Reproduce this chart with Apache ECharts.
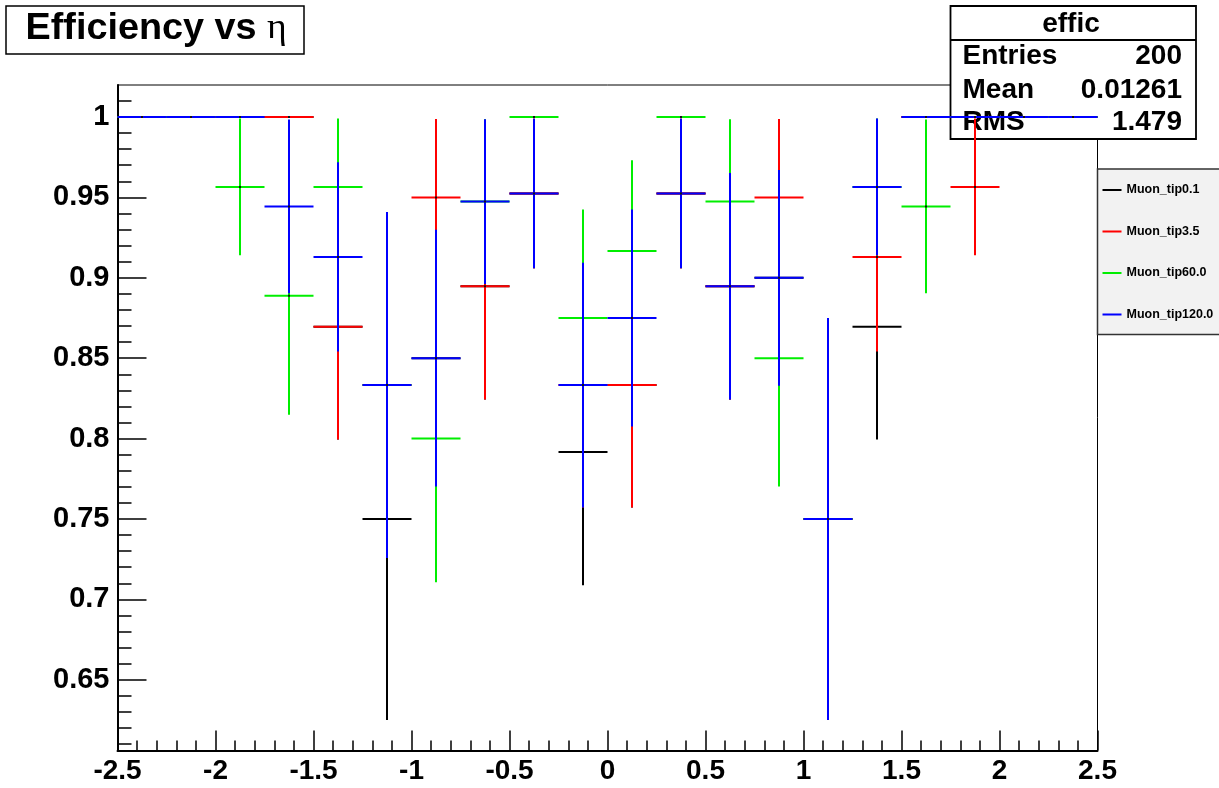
<!DOCTYPE html>
<html>
<head>
<meta charset="utf-8">
<title>Efficiency vs eta</title>
<script src="https://cdn.jsdelivr.net/npm/echarts@6/dist/echarts.min.js"></script>
<style>
  html, body { margin: 0; padding: 0; background: #ffffff; }
  #chart { width: 1219px; height: 788px; }
</style>
</head>
<body>
<div id="chart"></div>
<script>
// Bin centres in eta (20 bins of width 0.25 between -2.5 and 2.5)
const etaCenters = [-2.375, -2.125, -1.875, -1.625, -1.375, -1.125, -0.875, -0.625, -0.375, -0.125,
                     0.125,  0.375,  0.625,  0.875,  1.125,  1.375,  1.625,  1.875,  2.125,  2.375];
const etaHalfWidth = 0.125;

// Efficiency and its binomial error per bin, one pair of arrays per tip cut
const tip01Eff  = [1, 1, 1, 1, 0.8696, 0.75, 0.85, 0.8947, 0.9524, 0.7917, 0.8333, 0.9524, 0.8947, 0.9, 0.75, 0.8696, 1, 1, 1, 1];
const tip01Err  = [0, 0, 0, 0, 0.0702, 0.125, 0.0798, 0.0704, 0.0465, 0.0829, 0.0761, 0.0465, 0.0704, 0.0671, 0.125, 0.0702, 0, 0, 0, 0];

const tip35Eff  = [1, 1, 1, 1, 0.8696, 0.8333, 0.95, 0.8947, 0.9524, 0.8333, 0.8333, 0.9524, 0.8947, 0.95, 0.75, 0.913, 1, 0.9565, 1, 1];
const tip35Err  = [0, 0, 0, 0, 0.0702, 0.1076, 0.0487, 0.0704, 0.0465, 0.0761, 0.0761, 0.0465, 0.0704, 0.0487, 0.125, 0.0588, 0, 0.0425, 0, 0];

const tip60Eff  = [1, 1, 0.9565, 0.8889, 0.9565, 0.8333, 0.8, 0.9474, 1, 0.875, 0.9167, 1, 0.9474, 0.85, 0.75, 0.9565, 0.9444, 1, 1, 1];
const tip60Err  = [0, 0, 0.0425, 0.0741, 0.0425, 0.1076, 0.0894, 0.0512, 0, 0.0675, 0.0564, 0, 0.0512, 0.0798, 0.125, 0.0425, 0.054, 0, 0, 0];

const tip120Eff = [1, 1, 1, 0.9444, 0.913, 0.8333, 0.85, 0.9474, 0.9524, 0.8333, 0.875, 0.9524, 0.8947, 0.9, 0.75, 0.9565, 1, 1, 1, 1];
const tip120Err = [0, 0, 0, 0.054, 0.0588, 0.1076, 0.0798, 0.0512, 0.0465, 0.0761, 0.0675, 0.0465, 0.0704, 0.0671, 0.125, 0.0425, 0, 0, 0, 0];

const seriesNames = ['Muon_tip0.1', 'Muon_tip3.5', 'Muon_tip60.0', 'Muon_tip120.0'];
const seriesColors = ['#000000', '#ff0000', '#00ee00', '#0000ff'];

// Axis ticks
const effMajorTicks = [0.65, 0.7, 0.75, 0.8, 0.85, 0.9, 0.95, 1];
const effMinorTicks = [];
for (let k = 61; k <= 101; k++) effMinorTicks.push(k / 100);

// Statistics box contents
const statsTitle = 'effic';
const statsLabels = ['Entries', 'Mean', 'RMS'];
const statsValues = ['200', '0.01261', '1.479'];

const Y_MIN = 0.606, Y_MAX = 1.0199;
const SANS = 'Liberation Sans, Arial, Helvetica, sans-serif';

function makeData(eff, err) {
  return etaCenters.map((c, i) => [c, eff[i], err[i]]);
}

function errorBarRenderer(color) {
  return function (params, api) {
    const x = api.value(0), y = api.value(1), e = api.value(2);
    const left = api.coord([x - etaHalfWidth, y]);
    const right = api.coord([x + etaHalfWidth, y]);
    const top = api.coord([x, y + e]);
    const bottom = api.coord([x, y - e]);
    const style = { stroke: color, lineWidth: 2 };
    const children = [{
      type: 'line',
      shape: { x1: left[0], y1: left[1], x2: right[0], y2: right[1] },
      style: style
    }];
    if (e > 0) {
      children.push({
        type: 'line',
        shape: { x1: top[0], y1: top[1], x2: bottom[0], y2: bottom[1] },
        style: style
      });
    }
    children.push({
      type: 'rect',
      shape: { x: left[0] + (right[0] - left[0]) / 2 - 1, y: left[1] - 1, width: 2, height: 2 },
      style: { fill: '#111111' }
    });
    return { type: 'group', children: children };
  };
}

const effSets = [[tip01Eff, tip01Err], [tip35Eff, tip35Err], [tip60Eff, tip60Err], [tip120Eff, tip120Err]];

const series = effSets.map((set, i) => ({
  name: seriesNames[i],
  type: 'custom',
  renderItem: errorBarRenderer(seriesColors[i]),
  itemStyle: { color: seriesColors[i] },
  encode: { x: 0, y: 1 },
  data: makeData(set[0], set[1]),
  z: 5 + i,
  silent: true
}));

const chart = echarts.init(document.getElementById('chart'), null, { renderer: 'canvas' });

const statsX = 950.5, statsY = 6, statsW = 245.5, statsH = 133;
const statsRowsY = [56.5, 90, 122.5];

const graphics = [
  // title pave
  {
    type: 'rect', z: 3,
    shape: { x: 6, y: 6, width: 298, height: 48 },
    style: { fill: '#ffffff', stroke: '#000000', lineWidth: 1.5 }
  },
  {
    type: 'text', z: 4,
    x: 25.5, y: 29, scaleX: 1.05, scaleY: 1,
    style: {
      text: '{b|Efficiency vs }{g|η}',
      verticalAlign: 'middle',
      align: 'left',
      rich: {
        b: { fontFamily: SANS, fontWeight: 'bold', fontSize: 36, fill: '#000000' },
        g: { fontFamily: 'Liberation Serif, Times New Roman, serif', fontSize: 36, fill: '#000000' }
      }
    }
  },
  // statistics box
  {
    type: 'rect', z: 3,
    shape: { x: statsX, y: statsY, width: statsW, height: statsH },
    style: { fill: '#ffffff', stroke: '#000000', lineWidth: 1.8 }
  },
  {
    type: 'line', z: 3,
    shape: { x1: statsX, y1: 40, x2: statsX + statsW, y2: 40 },
    style: { stroke: '#000000', lineWidth: 1.8 }
  },
  {
    type: 'text', z: 4,
    x: 1071, y: 24,
    style: { text: statsTitle, fontFamily: SANS, fontWeight: 'bold', fontSize: 28, fill: '#000000', align: 'center', verticalAlign: 'middle' }
  }
];
statsLabels.forEach((lab, i) => {
  graphics.push({
    type: 'text', z: 4, x: 962.5, y: statsRowsY[i],
    style: { text: lab, fontFamily: SANS, fontWeight: 'bold', fontSize: 28, fill: '#000000', align: 'left', verticalAlign: 'middle' }
  });
  graphics.push({
    type: 'text', z: 4, x: 1182, y: statsRowsY[i],
    style: { text: statsValues[i], fontFamily: SANS, fontWeight: 'bold', fontSize: 28, fill: '#000000', align: 'right', verticalAlign: 'middle' }
  });
});

const option = {
  backgroundColor: '#ffffff',
  animation: false,
  color: seriesColors,
  grid: {
    left: 117.5, right: 121.5, top: 85, bottom: 37.5,
    show: true, borderColor: '#000000', borderWidth: 1, backgroundColor: 'transparent'
  },
  legend: {
    orient: 'vertical',
    left: 1097.5, top: 169,
    padding: [14, 30, 13, 5],
    itemGap: 27.5,
    itemWidth: 19, itemHeight: 2,
    icon: 'rect',
    backgroundColor: '#f2f2f2',
    borderColor: '#333333', borderWidth: 1.5,
    selectedMode: false,
    textStyle: { fontFamily: SANS, fontWeight: 'bold', fontSize: 12.5, color: '#000000', lineHeight: 14 },
    data: seriesNames
  },
  xAxis: {
    type: 'value',
    min: -2.5, max: 2.5, interval: 0.5,
    axisLine: { show: true, onZero: false, lineStyle: { color: '#000000', width: 2 } },
    axisTick: { show: true, inside: true, length: 20, lineStyle: { color: '#000000', width: 1.5 } },
    minorTick: { show: true, splitNumber: 5, length: 10, lineStyle: { color: '#000000', width: 1.5 } },
    splitLine: { show: false },
    axisLabel: { fontFamily: SANS, fontWeight: 'bold', fontSize: 28, color: '#000000', margin: 7 }
  },
  yAxis: [
    {
      type: 'value',
      min: Y_MIN, max: Y_MAX,
      axisLine: { show: true, onZero: false, lineStyle: { color: '#000000', width: 2 } },
      axisTick: { show: true, inside: true, length: 29, customValues: effMajorTicks, lineStyle: { color: '#000000', width: 1.5 } },
      splitLine: { show: false },
      axisLabel: { customValues: effMajorTicks, fontFamily: SANS, fontWeight: 'bold', fontSize: 29, color: '#000000', margin: 8 }
    },
    {
      type: 'value',
      min: Y_MIN, max: Y_MAX,
      position: 'left',
      axisLine: { show: false, onZero: false },
      axisTick: { show: true, inside: true, length: 14, customValues: effMinorTicks, lineStyle: { color: '#000000', width: 1.5 } },
      splitLine: { show: false },
      axisLabel: { show: false }
    }
  ],
  graphic: graphics,
  series: series
};

chart.setOption(option);
</script>
</body>
</html>
